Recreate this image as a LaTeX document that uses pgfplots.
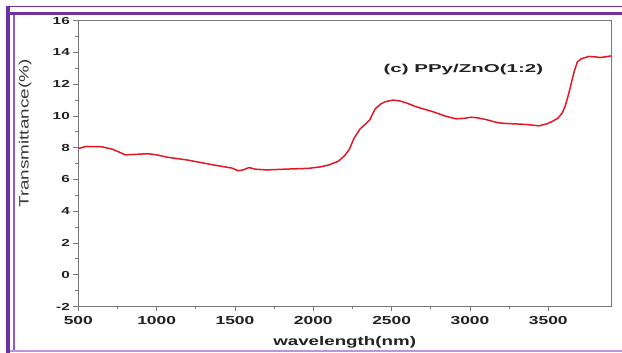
\documentclass[border=0pt]{standalone}
\usepackage{fontspec}
\setmainfont{Liberation Sans}
\newfontfamily\fA[FakeStretch=1.5]{Liberation Sans}
\newfontfamily\fB[FakeStretch=1.8]{Liberation Sans}
\newfontfamily\fC[FakeStretch=1.4]{Liberation Sans}
\usepackage{pgfplots}
\pgfplotsset{compat=1.18}
\definecolor{frameD}{RGB}{112,48,160}
\definecolor{frameL}{RGB}{140,90,195}
\definecolor{frameB}{RGB}{185,150,220}
\definecolor{curve}{RGB}{228,24,36}
\definecolor{axgray}{RGB}{120,120,120}
\definecolor{txt}{RGB}{34,34,34}

\pgfplotstableread{
x y
500 7.95
550 8.08
650 8.06
720 7.90
800 7.55
900 7.60
950 7.62
1000 7.55
1070 7.40
1200 7.22
1290 7.05
1400 6.85
1480 6.72
1520 6.55
1550 6.60
1590 6.75
1630 6.65
1700 6.60
1820 6.65
1970 6.70
2050 6.80
2100 6.92
2160 7.15
2200 7.50
2230 7.90
2260 8.60
2300 9.20
2340 9.55
2360 9.75
2395 10.45
2430 10.75
2460 10.90
2510 11.00
2550 10.95
2600 10.80
2650 10.60
2700 10.45
2760 10.28
2840 10.00
2910 9.82
2960 9.85
3010 9.92
3050 9.88
3100 9.78
3180 9.57
3240 9.52
3290 9.50
3350 9.47
3440 9.38
3490 9.50
3520 9.63
3560 9.85
3590 10.20
3610 10.70
3630 11.40
3650 12.20
3665 12.80
3685 13.40
3710 13.60
3760 13.75
3800 13.72
3830 13.68
3860 13.72
3900 13.78
}\spectrum

\begin{document}
\begin{tikzpicture}[x=1pt,y=1pt]
\useasboundingbox (0,0) rectangle (622,353);
\fill[white] (0,0) rectangle (622,353);
\draw[frameB, line width=2pt] (8,2) -- (640,2);
\draw[frameD, line width=1.2pt] (6,346.5) -- (640,346.5);
\draw[frameD, line width=4pt] (8,0) -- (8,347);
\draw[frameD, line width=3pt] (8,339.5) -- (640,339.5);
\draw[frameL, line width=2pt] (13.5,3) -- (13.5,338);
\begin{axis}[
  at={(78.3pt,46.5pt)}, anchor=south west,
  scale only axis, width=532.7pt, height=285.8pt,
  xmin=500, xmax=3900, ymin=-2, ymax=16,
  xtick={500,1000,...,3500}, ytick={-2,0,...,16},
  minor x tick num=1, minor y tick num=1,
  tick align=outside, xtick pos=left, ytick pos=left,
  major tick length=5pt, minor tick length=3pt,
  axis line style={axgray, line width=1pt},
  every tick/.style={axgray, line width=0.8pt},
  /pgf/number format/assume math mode=true,
  /pgf/number format/1000 sep={},
  xticklabel style={font=\fA\bfseries\fontsize{11.6}{12}\selectfont, text=txt, yshift=-1pt},
  yticklabel style={font=\fA\bfseries\fontsize{10.2}{11}\selectfont, text=txt},
  xlabel={wavelength(nm)},
  xlabel style={font=\fA\bfseries\fontsize{12.5}{13}\selectfont, text=txt, at={(axis description cs:0.5,-0.124)}, anchor=center},
  ylabel={Transmittance(\%)},
  ylabel style={font=\fC\fontsize{13.5}{14}\selectfont, text=txt!90!white, at={(axis description cs:-0.1,0.605)}, anchor=center},
  clip=false,
]
\addplot[curve, line width=1.5pt, line join=round] table {\spectrum};
\node[font=\fB\bfseries\fontsize{11.4}{12}\selectfont, text=txt] at (axis cs:2958,12.9) {(c) PPy/ZnO(1:2)};
\end{axis}
\end{tikzpicture}
\end{document}
